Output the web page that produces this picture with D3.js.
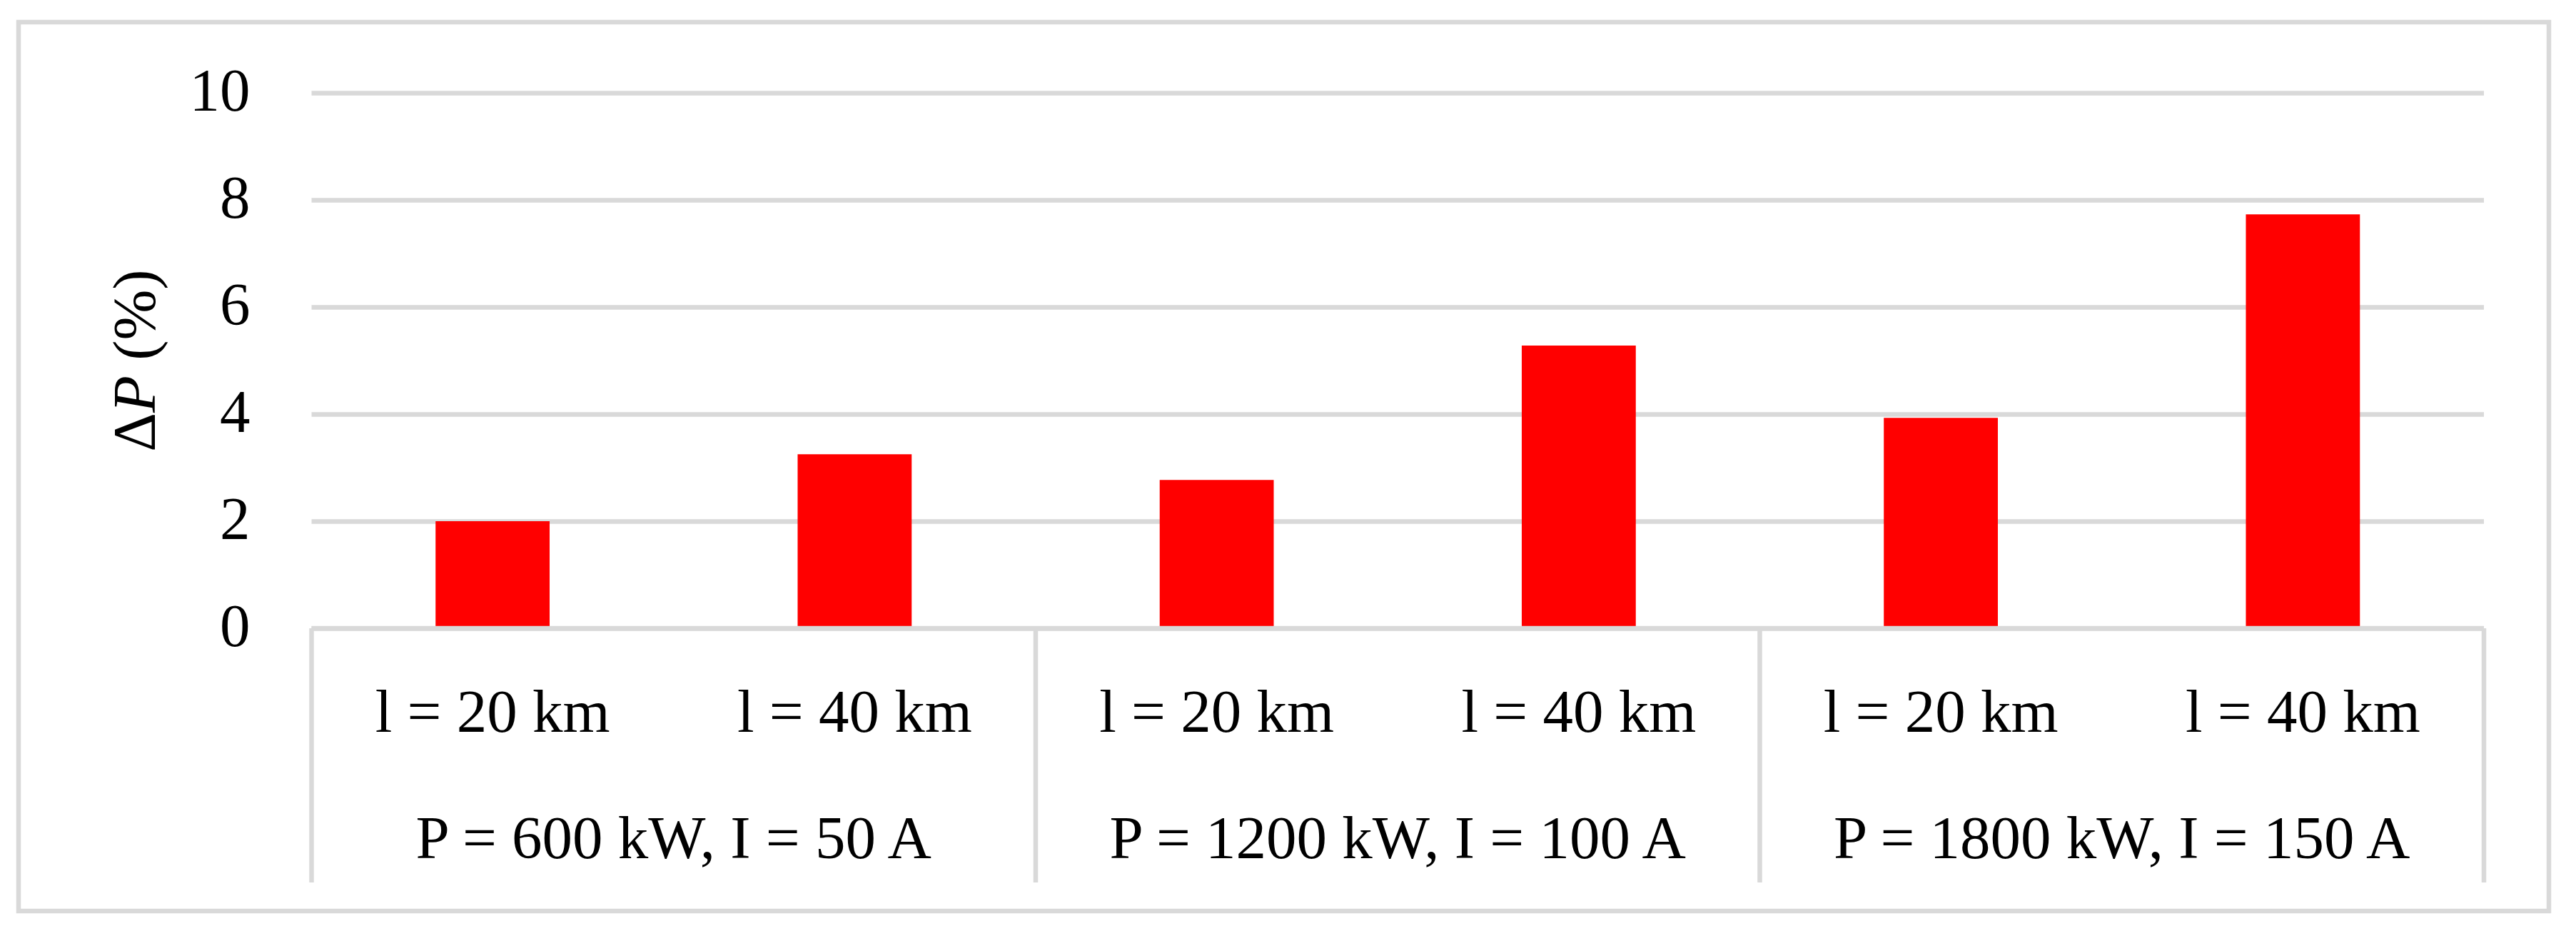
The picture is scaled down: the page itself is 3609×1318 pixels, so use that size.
<!DOCTYPE html>
<html>
<head>
<meta charset="utf-8">
<script src="https://cdn.jsdelivr.net/npm/d3@7"></script>
<style>
  html, body { margin: 0; padding: 0; background: #ffffff; }
  svg { display: block; }
  text { font-family: "Liberation Serif", "Times New Roman", serif; fill: #000; }
</style>
</head>
<body>
<svg id="chart" width="3609" height="1318"></svg>
<script>
// ---- data ----
const categories = ["c1", "c2", "c3", "c4", "c5", "c6"];
const subLabels = ["l = 20 km", "l = 40 km", "l = 20 km", "l = 40 km", "l = 20 km", "l = 40 km"];
const groupLabels = ["P = 600 kW, I = 50 A", "P = 1200 kW, I = 100 A", "P = 1800 kW, I = 150 A"];
const values = [2.0, 3.25, 2.77, 5.28, 3.93, 7.73];
const yTicks = [0, 2, 4, 6, 8, 10];

// ---- layout ----
const W = 3609, H = 1318;
const plot = { left: 436.5, right: 3480, top: 130, bottom: 880 };
const grid = "#d9d9d9";
const fontSize = 85;

const svg = d3.select("#chart");

svg.append("rect")
  .attr("x", 26).attr("y", 31)
  .attr("width", 3571 - 26).attr("height", 1276 - 31)
  .attr("fill", "#fff")
  .attr("stroke", grid).attr("stroke-width", 6.5);

const x = d3.scaleBand()
  .domain(categories)
  .range([plot.left, plot.right])
  .paddingInner(0.685)
  .paddingOuter(0.3425);

const y = d3.scaleLinear().domain([0, 10]).range([plot.bottom, plot.top]);

// y axis with gridlines
const yAxis = svg.append("g")
  .attr("transform", `translate(${plot.left},0)`)
  .call(d3.axisLeft(y).tickValues(yTicks).tickFormat(d3.format("d"))
    .tickSizeInner(-(plot.right - plot.left)).tickSizeOuter(0).tickPadding(86));
yAxis.select(".domain").remove();
yAxis.selectAll(".tick line").attr("stroke", grid).attr("stroke-width", 6.5);
yAxis.selectAll(".tick text")
  .attr("dy", "24px")
  .style("font-size", fontSize + "px")
  .style("font-family", "'Liberation Serif', serif")
  .attr("fill", "#000");

// bars
svg.append("g").selectAll("rect")
  .data(values)
  .join("rect")
  .attr("x", (d, i) => x(categories[i]))
  .attr("width", x.bandwidth())
  .attr("y", d => y(d))
  .attr("height", d => y(0) - y(d))
  .attr("fill", "#ff0000");

// category axis (multi-level)
const axisG = svg.append("g");
axisG.append("line")
  .attr("x1", plot.left).attr("x2", plot.right)
  .attr("y1", y(0)).attr("y2", y(0))
  .attr("stroke", grid).attr("stroke-width", 6.5);

const step = x.step();
const boundaries = [0, 2, 4, 6].map(k => plot.left + k * step);
axisG.selectAll("line.sep")
  .data(boundaries)
  .join("line")
  .attr("class", "sep")
  .attr("x1", d => d).attr("x2", d => d)
  .attr("y1", y(0)).attr("y2", 1236)
  .attr("stroke", grid).attr("stroke-width", 6.5);

axisG.selectAll("text.sub")
  .data(subLabels)
  .join("text")
  .attr("class", "sub")
  .attr("x", (d, i) => x(categories[i]) + x.bandwidth() / 2)
  .attr("y", 1025)
  .attr("text-anchor", "middle")
  .style("font-size", fontSize + "px")
  .text(d => d);

axisG.selectAll("text.grp")
  .data(groupLabels)
  .join("text")
  .attr("class", "grp")
  .attr("x", (d, i) => plot.left + (2 * i + 1) * step)
  .attr("y", 1202)
  .attr("text-anchor", "middle")
  .style("font-size", fontSize + "px")
  .text(d => d);

// y title
const title = svg.append("text")
  .attr("transform", `translate(217,${(plot.top + plot.bottom) / 2}) rotate(-90)`)
  .attr("text-anchor", "middle")
  .style("font-size", fontSize + "px");
title.append("tspan").text("Δ");
title.append("tspan").style("font-style", "italic").text("P");
title.append("tspan").text(" (%)");
</script>
</body>
</html>
